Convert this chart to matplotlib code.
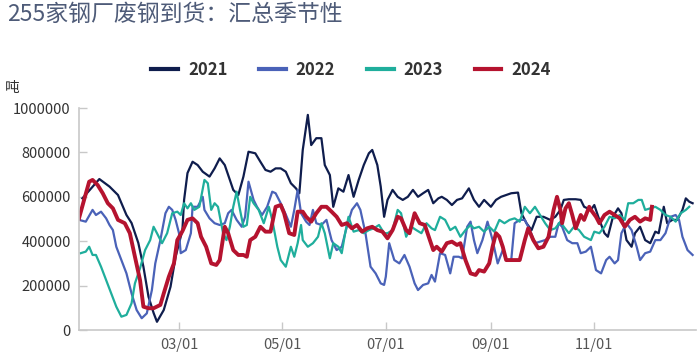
import numpy as np
import matplotlib
matplotlib.use("Agg")
import matplotlib.pyplot as plt

plt.rcParams['font.family'] = ['Noto Sans CJK SC', 'DejaVu Sans']

title = "255家钢厂废钢到货：汇总季节性"
unit = "吨"
series_names = ["2021", "2022", "2023", "2024"]
colors = ["#0f1d4d", "#4a62b8", "#1fae9c", "#b5132f"]

# day-of-year offsets (0 = Jan 1) and values (tonnes, thousands)
d2021 = [2, 12, 18, 23, 28, 31, 35, 38, 41, 44, 46, 50, 54, 57, 61, 62, 64, 67, 70, 73, 77, 80, 83, 86, 89,
         91, 94, 97, 100, 104, 107, 110, 113, 116, 119, 122, 125, 128, 130, 132, 135, 137, 140, 143, 145,
         148, 150, 153, 156, 159, 162, 165, 168, 171, 173, 176, 178, 180, 182, 185, 188, 191, 194, 197,
         200, 203, 206, 209, 212, 214, 217, 220, 223, 226, 230, 233, 236, 239, 243, 246, 249, 252, 255,
         259, 261, 264, 267, 270, 274, 278, 281, 284, 286, 289, 293, 296, 298, 302, 304, 307, 310, 312,
         315, 318, 320, 323, 326, 328, 331, 334, 337, 340, 342, 345, 347, 350, 353, 356, 358, 360, 362]
v2021 = [593, 680, 646, 608, 518, 482, 392, 285, 150, 77, 37, 90, 195, 330, 450, 586, 707, 758, 743, 713, 691,
         728, 773, 743, 676, 631, 608, 691, 803, 796, 758, 721, 713, 728, 728, 713, 661, 638, 616, 811, 969,
         833, 864, 864, 743, 698, 555, 638, 623, 698, 600, 676, 743, 796, 811, 743, 646, 510, 586, 631, 600,
         586, 600, 631, 600, 616, 631, 571, 593, 600, 586, 563, 586, 593, 638, 586, 555, 586, 555, 586, 600,
         608, 616, 619, 526, 481, 450, 510, 510, 496, 510, 541, 586, 589, 589, 586, 555, 541, 563, 496, 436,
         420, 510, 548, 526, 405, 375, 436, 465, 405, 391, 443, 436, 555, 481, 496, 496, 541, 593, 578, 571]

d2022 = [0, 4, 8, 10, 13, 16, 18, 20, 22, 25, 28, 31, 34, 37, 40, 43, 45, 48, 51, 53, 55, 57, 59, 60, 63, 66,
         67, 70, 73, 74, 77, 80, 83, 86, 88, 90, 93, 96, 98, 100, 103, 105, 108, 111, 114, 116, 119, 122,
         125, 127, 129, 131, 134, 136, 138, 140, 143, 146, 149, 152, 155, 158, 161, 164, 166, 169, 172,
         175, 178, 180, 181, 183, 186, 189, 192, 195, 198, 200, 203, 206, 208, 210, 213, 216, 219, 221,
         224, 226, 229, 231, 233, 235, 238, 241, 244, 247, 250, 252, 255, 257, 260, 263, 266, 269, 272,
         275, 278, 281, 283, 285, 288, 291, 294, 296, 299, 302, 305, 308, 311, 313, 316, 318, 320, 323,
         326, 329, 331, 334, 337, 340, 343, 346, 349, 352, 354, 356, 359, 362]
v2022 = [496, 488, 541, 518, 533, 503, 473, 450, 375, 315, 255, 165, 90, 53, 75, 180, 300, 405, 526, 555, 541,
         496, 436, 346, 360, 436, 555, 555, 600, 541, 503, 481, 473, 481, 526, 541, 496, 465, 510, 668, 586,
         555, 518, 555, 623, 616, 571, 520, 465, 541, 631, 526, 488, 473, 541, 481, 473, 496, 405, 360, 375,
         465, 541, 571, 541, 436, 285, 255, 210, 203, 240, 391, 315, 300, 338, 285, 210, 180, 203, 210, 248,
         218, 346, 338, 255, 330, 330, 323, 465, 488, 405, 346, 405, 488, 405, 300, 360, 315, 315, 481, 496,
         496, 450, 391, 398, 405, 420, 420, 481, 465, 405, 391, 391, 346, 353, 375, 270, 255, 315, 330, 300,
         315, 436, 481, 450, 375, 315, 346, 353, 405, 405, 436, 510, 518, 496, 420, 360, 338]

d2023 = [1, 4, 6, 8, 10, 13, 16, 19, 22, 25, 28, 31, 33, 36, 39, 42, 44, 46, 49, 52, 55, 58, 60, 62, 64, 66, 68,
         71, 74, 76, 78, 80, 82, 85, 87, 89, 91, 93, 95, 97, 99, 101, 103, 106, 109, 112, 114, 117, 119, 122,
         125, 127, 129, 131, 132, 135, 138, 141, 143, 145, 148, 150, 153, 155, 157, 159, 162, 165, 168, 171,
         174, 177, 180, 182, 185, 188, 190, 193, 196, 199, 202, 205, 208, 210, 213, 216, 219, 222, 225, 228,
         231, 233, 236, 239, 242, 245, 248, 251, 254, 257, 260, 263, 266, 269, 272, 275, 278, 281, 284, 286,
         289, 292, 295, 298, 302, 304, 307, 310, 313, 316, 319, 322, 324, 327, 330, 332, 334, 337, 340, 343,
         346, 349, 352, 355, 358, 360]
v2023 = [346, 353, 375, 338, 338, 285, 225, 165, 105, 60, 68, 120, 210, 278, 360, 405, 465, 436, 391, 436, 526,
         533, 518, 571, 548, 571, 541, 555, 676, 661, 541, 571, 555, 436, 405, 465, 555, 623, 541, 465, 473,
         600, 571, 541, 481, 555, 496, 375, 315, 285, 375, 330, 391, 473, 405, 375, 391, 420, 481, 436, 323,
         391, 375, 346, 436, 510, 443, 450, 436, 450, 458, 473, 436, 436, 450, 541, 526, 420, 465, 450, 436,
         481, 458, 450, 510, 496, 450, 465, 420, 450, 473, 458, 465, 443, 465, 443, 496, 481, 496, 503, 488,
         555, 526, 555, 518, 481, 450, 458, 488, 465, 436, 465, 450, 420, 405, 443, 436, 465, 510, 503, 518,
         496, 571, 571, 586, 586, 541, 548, 555, 541, 518, 510, 488, 526, 541, 555]

d2024 = [0, 3, 6, 8, 11, 14, 17, 20, 23, 27, 30, 33, 36, 38, 41, 44, 48, 50, 53, 56, 58, 61, 64, 67, 70, 72, 75,
         78, 81, 83, 86, 88, 91, 94, 97, 99, 101, 104, 107, 110, 113, 116, 119, 121, 124, 127, 129, 132, 134,
         137, 140, 143, 146, 149, 152, 155, 158, 161, 164, 167, 170, 173, 176, 179, 182, 185, 188, 190, 193,
         195, 198, 201, 204, 207, 209, 211, 214, 217, 220, 223, 225, 228, 231, 234, 236, 239, 242, 244, 246,
         248, 250, 252, 255, 260, 263, 265, 268, 271, 274, 277, 280, 282, 284, 285, 287, 289, 291, 293, 296,
         298, 301, 302, 305, 307, 310, 313, 316, 319, 322, 325, 328, 331, 334, 337, 338]
v2024 = [503, 586, 668, 676, 653, 616, 571, 548, 496, 481, 436, 330, 225, 105, 98, 98, 113, 165, 240, 300, 405,
         445, 496, 503, 481, 420, 375, 300, 293, 315, 465, 436, 360, 338, 338, 330, 405, 420, 465, 443, 443,
         555, 563, 526, 436, 428, 533, 533, 510, 488, 526, 555, 555, 533, 510, 473, 481, 458, 473, 443, 458,
         465, 450, 443, 413, 450, 510, 503, 450, 436, 526, 481, 473, 405, 360, 375, 353, 391, 398, 383, 391,
         315, 255, 248, 270, 263, 300, 375, 436, 420, 375, 315, 315, 315, 405, 458, 405, 368, 375, 420, 541,
         600, 541, 481, 548, 571, 518, 458, 518, 496, 555, 541, 510, 481, 518, 533, 518, 503, 465, 496, 510,
         488, 503, 496, 555]

days = [d2021, d2022, d2023, d2024]
vals = [v2021, v2022, v2023, v2024]
widths = [1.6, 1.6, 1.6, 2.8]

tick_labels = ["03/01", "05/01", "07/01", "09/01", "11/01"]
yticks = [0, 200000, 400000, 600000, 800000, 1000000]

base = np.datetime64("2021-01-01")

fig = plt.figure(figsize=(6.98, 3.58), dpi=100)
ax = fig.add_axes([79/698, 28/358, 617/698, 222/358])

for name, d, v, c, lw in zip(series_names, days, vals, colors, widths):
    x = base + np.array(d).astype("timedelta64[D]")
    ax.plot(x.astype("datetime64[ns]"), np.array(v) * 1000, color=c, lw=lw, label=name,
            solid_joinstyle="round")

ax.set_xlim(np.datetime64("2021-01-01"), np.datetime64("2021-12-31"))
ax.set_ylim(0, 1000000)
ax.set_yticks(yticks)
ax.set_yticklabels([str(t) for t in yticks])
tick_pos = [np.datetime64("2021-" + t.replace("/", "-")) for t in tick_labels]
ax.set_xticks(tick_pos)
ax.set_xticklabels(tick_labels)

for s in ["top", "right"]:
    ax.spines[s].set_visible(False)
for s in ["left", "bottom"]:
    ax.spines[s].set_color("#c8c8c8")
    ax.spines[s].set_linewidth(1.2)
ax.tick_params(axis="both", direction="in", length=6, color="#c8c8c8", width=1.0,
               labelsize=10.5, labelcolor="#333333")
ax.tick_params(axis="y", pad=6)
ax.tick_params(axis="x", pad=6, labelcolor="#555555")

fig.text(7/698, 1 - 3/358, title, ha="left", va="top", fontsize=16.5, color="#4e5b78")
fig.text(5/698, 1 - 88/358, unit, ha="left", va="center", fontsize=10.5, color="#333333")

leg = fig.legend(loc="center", bbox_to_anchor=(0.503, 1 - 70/358), ncol=4, frameon=False,
                 handlelength=1.6, handletextpad=0.6, columnspacing=1.9,
                 prop={"weight": "bold", "size": 12})
for t in leg.get_texts():
    t.set_color("#333333")
for h in leg.get_lines():
    h.set_linewidth(3)

fig.savefig("out.png", dpi=100)
